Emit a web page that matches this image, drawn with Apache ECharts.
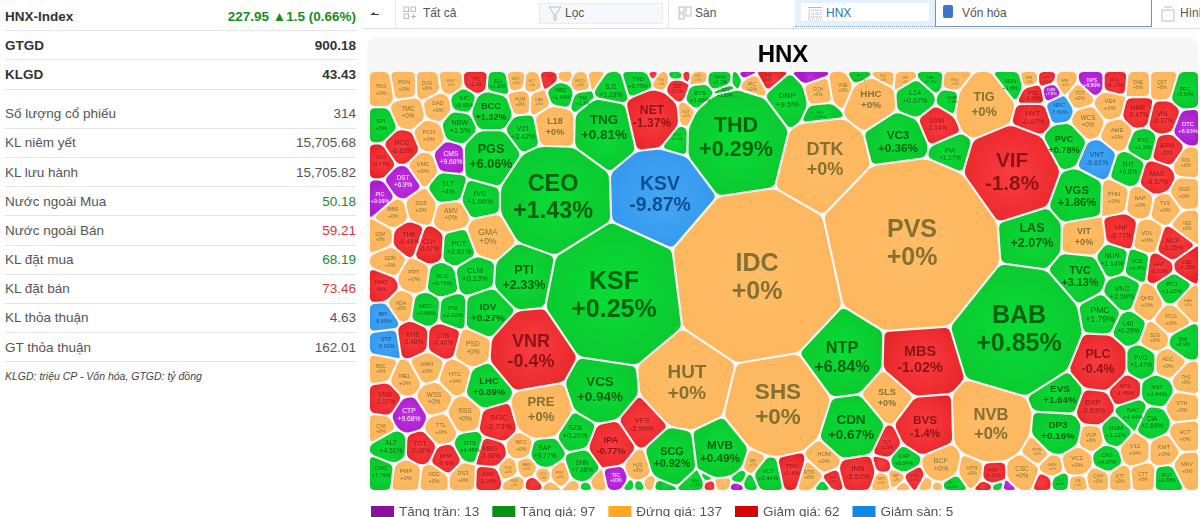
<!DOCTYPE html>
<html>
<head>
<meta charset="utf-8">
<title>HNX</title>
<script src="https://cdn.jsdelivr.net/npm/echarts@6/dist/echarts.min.js"></script>
<style>
html, body { margin: 0; width: 1200px; height: 517px; overflow: hidden; background: #fff; font-family: "Liberation Sans", Arial, sans-serif; color: #555; }
#side { position: absolute; left: 5px; top: 2px; width: 351px; font-size: 13.5px; }
#side .row { display: flex; justify-content: space-between; align-items: center; height: 28.2px; border-bottom: 1px solid #e4e4e4; }
#side .strong { font-weight: bold; color: #333; }
#side .gap { margin-top: 10px; }
#side .up { color: #1d8a22; }
#side .down { color: #d23a3a; }
#side .note { font-size: 10.5px; font-style: italic; margin-top: 8px; color: #444; }
#bar { position: absolute; left: 364px; top: 0; width: 836px; height: 28px; border-bottom: 1px solid #ddd; font-size: 12px; }
#bar span { position: absolute; top: 6px; }
#bar .sep { position: absolute; top: 0; width: 1px; height: 28px; background: #e6e6e6; }
#bar svg { position: absolute; top: 6px; }
#filter { position: absolute; left: 175px; top: 3px; width: 122px; height: 19px; border: 1px dotted #cfe3f5; background: #f5f9fe; }
#market { position: absolute; left: 431px; top: 0; width: 140px; height: 27px; background: #e3f1fc; border-bottom: 1px dotted #7a9cc0; box-sizing: border-box; }
#market i { position: absolute; left: 6px; top: 3px; width: 128px; height: 18px; background: #fff; }
#cap { position: absolute; left: 571px; top: -1px; width: 217px; height: 28px; border: 1px solid #6f94bd; box-sizing: border-box; }
#capicon { position: absolute; left: 579px; top: 5px; width: 10px; height: 13px; background: #3f74c8; border-radius: 2px; }
#panel { position: absolute; left: 367px; top: 37px; width: 831px; height: 455px; background: #f7f7f7; border-radius: 10px; }
#map { position: absolute; left: 360px; top: 0; width: 840px; height: 517px; }
</style>
</head>
<body>
<div id="side">
  <div class="row strong"><span>HNX-Index</span><span class="up">227.95 ▲1.5 (0.66%)</span></div>
  <div class="row strong"><span>GTGD</span><span>900.18</span></div>
  <div class="row strong"><span>KLGD</span><span>43.43</span></div>
  <div class="row gap"><span>Số lượng cổ phiếu</span><span>314</span></div>
  <div class="row"><span>KL niêm yết</span><span>15,705.68</span></div>
  <div class="row"><span>KL lưu hành</span><span>15,705.82</span></div>
  <div class="row"><span>Nước ngoài Mua</span><span class="up">50.18</span></div>
  <div class="row"><span>Nước ngoài Bán</span><span class="down">59.21</span></div>
  <div class="row"><span>KL đặt mua</span><span class="up">68.19</span></div>
  <div class="row"><span>KL đặt bán</span><span class="down">73.46</span></div>
  <div class="row"><span>KL thỏa thuận</span><span>4.63</span></div>
  <div class="row"><span>GT thỏa thuận</span><span>162.01</span></div>
  <div class="note">KLGD: triệu CP - Vốn hóa, GTGD: tỷ đồng</div>
</div>
<div id="bar">
  <div class="sep" style="left:31px"></div>
  <div class="sep" style="left:304px"></div>
  <svg style="left:6px" width="10" height="14"><path d="M0 9 L4 6 L5 8 L9 8 L9 9 Z" fill="#444"/></svg>
  <svg style="left:39px" width="14" height="14" fill="none" stroke="#bbb"><rect x="1" y="1" width="4.5" height="4.5"/><rect x="8" y="1" width="4.5" height="4.5"/><rect x="1" y="8" width="4.5" height="4.5"/><path d="M8 10.5 H13 M10.5 8 V13"/></svg>
  <span style="left:59px">Tất cả</span>
  <div id="filter"></div>
  <svg style="left:184px" width="14" height="16" fill="none" stroke="#bbb"><path d="M1 1 H13 L8 8 V14 H6 V8 Z"/></svg>
  <span style="left:201px">Lọc</span>
  <svg style="left:314px" width="14" height="14" fill="none" stroke="#bbb"><rect x="1" y="1" width="5" height="5"/><rect x="8" y="1" width="5" height="9"/><rect x="1" y="8" width="5" height="5"/></svg>
  <span style="left:331px">Sàn</span>
  <div id="market"><i></i></div>
  <svg style="left:444px" width="14" height="15" fill="none" stroke="#a9b9c9" stroke-dasharray="1 1"><path d="M0 1.5 H14" stroke-dasharray="none"/><rect x="1" y="4" width="12" height="10"/><path d="M1 8 H13 M1 11 H13 M5 4 V14 M9 4 V14"/></svg>
  <span style="left:462px;color:#2f6fb0">HNX</span>
  <div id="cap"></div>
  <div id="capicon"></div>
  <span style="left:598px">Vốn hóa</span>
  <svg style="left:797px" width="14" height="16" fill="none" stroke="#bbb"><path d="M3 1 H11 M1 4 H13 V15 H1 Z"/></svg>
  <span style="left:816px">Hình</span>
</div>
<div id="panel"></div>
<div id="map"></div>
<script>
// each row: ticker, % change, x, y, market cap
const ceilingCells = [
  ["CMS", 9.68, 451, 158, 225], ["DST", 6.9, 403, 182, 196], ["PIC", 9.09, 380, 198, 144],
  ["CTP", 9.68, 409, 415, 225], ["TFC", 10, 616, 478, 100], ["DTC", 8.93, 1188, 128, 169],
  ["NPS", 8.89, 1092, 83, 121], ["CVN", 7.8, 1051, 92, 81], ["KSD", 9.8, 746, 75, 25],
  ["SPC", 9.5, 737, 488, 25], ["PV2", 9.1, 812, 75, 16], ["VTL", 9.6, 1008, 488, 9]
];
const gainCells = [
  ["CEO", 1.43, 553, 198, 2704], ["THD", 0.29, 736, 138, 2304], ["KSF", 0.25, 614, 296, 4356],
  ["BAB", 0.85, 1019, 330, 3844], ["TNG", 0.81, 604, 128, 900], ["VC3", 0.36, 898, 142, 676],
  ["LAS", 2.07, 1032, 236, 784], ["VGS", 1.86, 1077, 197, 625], ["TVC", 3.13, 1080, 277, 576],
  ["PTI", 2.33, 524, 278, 784], ["IDV", 0.27, 488, 313, 484], ["NTP", 6.84, 842, 358, 1296],
  ["CDN", 0.67, 851, 428, 900], ["VCS", 0.94, 600, 390, 900], ["SCG", 0.92, 672, 458, 576],
  ["MVB", 0.49, 720, 452, 676], ["EVS", 1.64, 1060, 395, 484], ["DP3", 0.16, 1058, 431, 484],
  ["DNP", 9.5, 787, 100, 324], ["PGS", 6.06, 491, 157, 784], ["BCC", 1.32, 491, 112, 400],
  ["LHC", 0.89, 489, 387, 441], ["PCT", 2.61, 459, 248, 256], ["CLM", 0.13, 475, 275, 289],
  ["HLC", 0.76, 442, 280, 169], ["MDC", 0.88, 426, 310, 169], ["PSI", 2.02, 453, 312, 169],
  ["SLT", 4, 448, 188, 225], ["IVS", 1.96, 480, 198, 289], ["SPI", 5, 381, 125, 169],
  ["NBW", 1.5, 460, 127, 256], ["GIC", 0.69, 464, 102, 144], ["V21", 3.42, 523, 133, 256],
  ["ALT", 4.51, 391, 447, 225], ["CMC", 7.76, 381, 472, 144], ["DTS", 4.48, 470, 447, 169],
  ["SAF", 9.77, 545, 452, 225], ["SZB", 0.26, 575, 432, 256], ["SHN", 7.58, 582, 467, 196],
  ["SJ1", 1.19, 611, 91, 225], ["TVD", 0.75, 638, 83, 169], ["BTS", 1.88, 700, 97, 169],
  ["NBC", 1.49, 561, 94, 144], ["SD1", 1.32, 498, 84, 100], ["VC7", 2.44, 768, 475, 169],
  ["CAP", 0.84, 904, 460, 144], ["PVI", 1.17, 950, 155, 196], ["L14", 0.67, 915, 97, 256],
  ["PVC", 0.78, 1064, 145, 400], ["PJC", 1.5, 1143, 144, 169], ["THT", 0.8, 1128, 169, 196],
  ["NDN", 1.14, 1112, 260, 225], ["VC6", 0.8, 1137, 265, 144], ["VNC", 2.59, 1122, 293, 256],
  ["PC1", 1.05, 1172, 288, 169], ["PMC", 1.79, 1100, 315, 361], ["L40", 0.29, 1128, 328, 196],
  ["BMI", 0.9, 1183, 342, 121], ["PVG", 1.47, 1141, 362, 196], ["NST", 3.64, 1157, 391, 169],
  ["BAC", 4.44, 1133, 414, 169], ["CIA", 2.69, 1152, 423, 196], ["HGM", 1.12, 1116, 432, 169],
  ["CAG", 4.07, 1107, 459, 144], ["PGT", 1.08, 1167, 478, 121], ["PRC", 5.54, 1185, 92, 121],
  ["SGN", 1.8, 1010, 85, 144], ["TA9", 1.3, 583, 101, 100], ["VTV", 1.1, 677, 137, 81],
  ["HLD", 0.9, 677, 76, 25], ["NHA", 1.2, 720, 80, 121], ["SMT", 1.4, 737, 81, 25],
  ["API", 1.09, 725, 93, 100], ["VIG", 0.8, 820, 115, 81], ["HLY", 0.4, 860, 78, 64],
  ["TSB", 2.1, 930, 80, 81], ["KDM", 1.6, 952, 100, 81], ["SDA", 1.3, 695, 483, 64],
  ["HEV", 2.2, 707, 477, 9], ["GKM", 0.7, 739, 478, 25], ["ECI", 3.1, 749, 483, 25],
  ["KHD", 1.5, 630, 487, 9], ["DC2", 2.6, 639, 487, 16], ["SVN", 1.2, 660, 487, 16],
  ["SDU", 0.5, 586, 488, 9], ["BTW", 1.9, 824, 487, 16], ["VTC", 1.4, 952, 485, 64],
  ["TKC", 0.9, 997, 485, 16], ["CLX", 0.6, 1060, 482, 49]
];
const flatCells = [
  ["PVS", 0, 912, 244, 7225], ["IDC", 0, 757, 278, 6724], ["DTK", 0, 825, 160, 1600],
  ["HHC", 0, 871, 100, 484], ["TIG", 0, 984, 105, 784], ["HUT", 0, 687, 383, 1764],
  ["SHS", 0, 778, 405, 2500], ["NVB", 0, 991, 425, 1369], ["PRE", 0, 541, 410, 841],
  ["SLS", 0, 887, 398, 400], ["GMA", 0, 488, 237, 361], ["L18", 0, 555, 127, 400],
  ["PSD", 0, 473, 348, 225], ["VIT", 0, 1084, 237, 400], ["BCF", 0, 941, 465, 256],
  ["CSC", 0, 1022, 473, 196], ["VC2", 0, 1077, 462, 169], ["V12", 0, 1135, 450, 169],
  ["KMT", 0, 1164, 451, 169], ["VGP", 0, 1091, 438, 121], ["HCT", 0, 1185, 436, 144],
  ["MKV", 0, 1187, 468, 144], ["CTT", 0, 1143, 477, 121], ["KTT", 0, 1120, 479, 100],
  ["CVH", 0, 1098, 479, 100], ["GMX", 0, 1052, 467, 81], ["RTW", 0, 1037, 452, 81],
  ["SJE", 0, 1078, 483, 49], ["VTH", 0, 1182, 407, 144], ["THS", 0, 1186, 380, 100],
  ["ADC", 0, 1168, 363, 144], ["SDG", 0, 1155, 338, 121], ["PCG", 0, 1171, 320, 144],
  ["QHD", 0, 1147, 302, 169], ["DAE", 0, 1188, 303, 81], ["VDL", 0, 1147, 237, 169],
  ["VE3", 0, 1187, 226, 100], ["TV3", 0, 1165, 207, 144], ["NAP", 0, 1140, 202, 144],
  ["PHN", 0, 1114, 198, 169], ["SGD", 0, 1184, 193, 144], ["FID", 0, 1186, 163, 121],
  ["AME", 0, 1117, 134, 169], ["WCS", 0, 1088, 122, 196], ["VE4", 0, 1110, 105, 169],
  ["TDT", 0, 1080, 96, 121], ["MIP", 0, 1065, 83, 81], ["ONE", 0, 1138, 85, 121],
  ["QST", 0, 1162, 85, 121], ["SFN", 0, 1029, 80, 49], ["TKG", 0, 381, 90, 144],
  ["PGN", 0, 404, 86, 144], ["DVG", 0, 427, 86, 121], ["KKC", 0, 451, 83, 81],
  ["MST", 0, 516, 81, 64], ["NCT", 0, 532, 83, 49], ["TXM", 0, 565, 77, 36],
  ["HUM", 0, 520, 102, 100], ["CAN", 0, 539, 102, 81], ["DAD", 0, 438, 107, 144],
  ["TMC", 0, 408, 113, 196], ["PCH", 0, 429, 136, 169], ["VMC", 0, 423, 168, 169],
  ["SD5", 0, 421, 207, 169], ["BBS", 0, 393, 213, 144], ["AMV", 0, 451, 215, 196],
  ["SSM", 0, 380, 237, 100], ["SDN", 0, 390, 262, 144], ["PPT", 0, 414, 276, 169],
  ["HDA", 0, 401, 306, 121], ["BSC", 0, 381, 369, 121], ["MEL", 0, 405, 380, 169],
  ["HMH", 0, 427, 368, 144], ["HTC", 0, 455, 378, 169], ["WSS", 0, 434, 399, 196],
  ["SSS", 0, 465, 415, 225], ["CX8", 0, 381, 429, 121], ["TTL", 0, 441, 429, 169],
  ["NFC", 0, 521, 446, 144], ["PMP", 0, 406, 475, 169], ["SDC", 0, 434, 478, 144],
  ["DS3", 0, 463, 477, 144], ["ICG", 0, 508, 470, 81], ["BED", 0, 527, 467, 81],
  ["CC1", 0, 543, 476, 49], ["PSY", 0, 560, 475, 81], ["GDW", 0, 514, 483, 49],
  ["SEB", 0, 550, 487, 25], ["VHE", 0, 573, 487, 16], ["CJC", 0, 598, 482, 36],
  ["HJS", 0, 638, 468, 121], ["PEN", 0, 649, 484, 16], ["SDT", 0, 686, 114, 81],
  ["MCO", 0, 580, 83, 81], ["MED", 0, 595, 80, 36], ["TV4", 0, 661, 82, 49],
  ["VC9", 0, 698, 78, 49], ["IPC", 0, 752, 87, 121], ["OCH", 0, 818, 92, 100],
  ["VNE", 0, 843, 88, 100], ["D11", 0, 883, 78, 64], ["DIH", 0, 905, 80, 49],
  ["KSQ", 0, 955, 82, 64], ["LCS", 0, 723, 483, 36], ["MEI", 0, 753, 463, 64],
  ["HOM", 0, 824, 458, 169], ["DTD", 0, 809, 475, 121], ["MIT", 0, 881, 481, 64],
  ["NBP", 0, 896, 478, 49], ["SMN", 0, 903, 486, 16], ["THV", 0, 926, 485, 25],
  ["S55", 0, 937, 488, 16], ["NTH", 0, 972, 471, 121]
];
const lossCells = [
  ["VIF", -1.8, 1012, 173, 2116], ["VNR", -0.4, 531, 352, 1600], ["MBS", -1.02, 920, 360, 1024],
  ["BVS", -1.4, 925, 427, 676], ["PLC", -0.4, 1098, 362, 784], ["NET", -1.37, 652, 117, 729],
  ["IPA", -0.77, 611, 446, 400], ["VFS", -2.99, 642, 425, 289], ["SGC", -2.73, 499, 422, 324],
  ["APS", -1.45, 1125, 390, 169], ["DXP", -2.63, 1093, 407, 289], ["HVT", -0.67, 1033, 118, 256],
  ["DXM", -1.14, 937, 125, 196], ["HCC", -0.83, 402, 147, 225], ["VLA", -0.77, 381, 161, 144],
  ["THB", -0.44, 409, 239, 196], ["CLH", -0.67, 429, 246, 196], ["HAD", -6, 381, 286, 169],
  ["KHS", -2.48, 413, 339, 196], ["CTB", -0.46, 443, 340, 196], ["VSM", -1.07, 385, 399, 196],
  ["TOT", -2.06, 420, 448, 196], ["DHP", -0.6, 446, 460, 169], ["MBG", -2.38, 490, 453, 196],
  ["ASG", -3.28, 488, 478, 144], ["INN", -2.57, 858, 473, 289], ["VNF", -0.77, 1121, 232, 225],
  ["MCF", -1.15, 1173, 245, 196], ["LBE", -4.35, 1187, 265, 121], ["HAT", -0.53, 1159, 268, 144],
  ["ARM", -5, 1167, 150, 196], ["MAS", -0.57, 1157, 178, 225], ["VHL", -0.37, 1163, 118, 196],
  ["HMR", -0.47, 1138, 112, 196], ["PVL", -4.17, 1115, 83, 121], ["PSE", -3.28, 1033, 96, 121],
  ["TPL", -1.3, 476, 82, 100], ["VKC", -2.1, 550, 79, 49], ["ZZZ", -0.9, 677, 89, 100],
  ["DPC", -1.2, 653, 76, 9], ["TST", -3.3, 686, 76, 9], ["PTS", -1.6, 768, 78, 64],
  ["TDN", -0.8, 792, 470, 169], ["VCM", -1.9, 535, 484, 36], ["SPP", -2.2, 1047, 80, 49],
  ["HAF", -1.11, 993, 473, 121], ["BKC", -0.7, 987, 485, 16], ["KST", -1.8, 833, 480, 49],
  ["TMB", -1.4, 882, 466, 36], ["VTS", -2.6, 914, 478, 64], ["TLT", -1.5, 887, 445, 121],
  ["MAC", -3.1, 709, 485, 9], ["NAG", -0.9, 1044, 482, 36]
];
const floorCells = [
  ["KSV", -9.87, 660, 195, 1849], ["VNT", -9.81, 1097, 159, 256], ["NRC", -7.69, 1059, 109, 144],
  ["BPI", -8.89, 383, 318, 144], ["STP", -9.62, 386, 343, 144]
];
const legendLabels = ["Tăng trần: 13", "Tăng giá: 97", "Đứng giá: 137", "Giảm giá: 62", "Giảm sàn: 5"];

const groups = [ceilingCells, gainCells, flatCells, lossCells, floorCells];
const swatches = ["#8c0f9f", "#079312", "#ffa81f", "#d80303", "#0f88e6"];
const fills = [["#c030e4", "#a81ccb"], ["#08dc36", "#0cc42e"], ["#febd66", "#fdb55c"], ["#fb3d40", "#e52327"], ["#45a6f4", "#2f96ee"]];
const inks = ["#ffffff", "#05620f", "#857033", "#8c1418", "#0e4f90"];

// weighted voronoi, every cell is the box cut by its neighbours
const box = [[370, 72], [1198, 72], [1198, 490], [370, 490]];
const allCells = groups.flat();

function clip(poly, a, b, c) {
  const out = [];
  for (let i = 0; i < poly.length; i++) {
    const p = poly[i], q = poly[(i + 1) % poly.length];
    const dp = a * p[0] + b * p[1] - c, dq = a * q[0] + b * q[1] - c;
    if (dp <= 0) out.push(p);
    if (dp * dq < 0) {
      const t = dp / (dp - dq);
      out.push([p[0] + t * (q[0] - p[0]), p[1] + t * (q[1] - p[1])]);
    }
  }
  return out;
}

function cellPolygon(cell) {
  let poly = box;
  const gap = 1.1;
  for (const other of allCells) {
    if (other === cell || poly.length === 0) continue;
    const a = 2 * (other[2] - cell[2]), b = 2 * (other[3] - cell[3]);
    const len = Math.hypot(a, b);
    if (!len) continue;
    const c = other[2] * other[2] + other[3] * other[3] - other[4]
      - cell[2] * cell[2] - cell[3] * cell[3] + cell[4];
    poly = clip(poly, a, b, c - gap * len);
  }
  return poly;
}

function roundCorners(poly, radius) {
  const pts = [];
  const n = poly.length;
  for (let i = 0; i < n; i++) {
    const p = poly[i], prev = poly[(i + n - 1) % n], next = poly[(i + 1) % n];
    const l1 = Math.hypot(prev[0] - p[0], prev[1] - p[1]) || 1;
    const l2 = Math.hypot(next[0] - p[0], next[1] - p[1]) || 1;
    const t1 = Math.min(radius, l1 / 2.2) / l1, t2 = Math.min(radius, l2 / 2.2) / l2;
    const s = [p[0] + (prev[0] - p[0]) * t1, p[1] + (prev[1] - p[1]) * t1];
    const e = [p[0] + (next[0] - p[0]) * t2, p[1] + (next[1] - p[1]) * t2];
    for (let k = 0; k <= 5; k++) {
      const u = k / 5, v = 1 - u;
      pts.push([v * v * s[0] + 2 * u * v * p[0] + u * u * e[0], v * v * s[1] + 2 * u * v * p[1] + u * u * e[1]]);
    }
  }
  return pts;
}

const polygons = groups.map(function (list) {
  return list.map(function (cell) {
    return roundCorners(cellPolygon(cell), 5);
  });
});

function pctText(v) {
  return (v >= 0 ? "+" : "") + v + "%";
}

function renderCell(g) {
  return function (params, api) {
    const pts = polygons[g][params.dataIndex].map(function (p) {
      return api.coord(p);
    });
    if (pts.length < 3) return;
    const cell = groups[g][params.dataIndex];
    const r = Math.sqrt(cell[4]);
    const size = Math.min(25, r * 0.45);
    const children = [{
      type: "polygon",
      shape: { points: pts },
      style: {
        fill: new echarts.graphic.RadialGradient(0.5, 0.5, 0.7, [
          { offset: 0, color: fills[g][0] },
          { offset: 1, color: fills[g][1] }
        ])
      }
    }];
    if (r >= 7) {
      const c = api.coord([cell[2], cell[3]]);
      children.push({
        type: "text",
        x: c[0],
        y: c[1],
        style: {
          text: cell[0] + "\n" + pctText(cell[1]),
          fill: inks[g],
          font: (r >= 20 ? "bold " : "") + size + 'px "Liberation Sans", Arial, sans-serif',
          lineHeight: size * 1.12,
          align: "center",
          verticalAlign: "middle"
        }
      });
    }
    return { type: "group", children: children };
  };
}

const chart = echarts.init(document.getElementById("map"));
chart.setOption({
  animation: false,
  title: {
    text: "HNX",
    left: 418,
    top: 38,
    textAlign: "center",
    textStyle: { fontSize: 24, fontWeight: "bold", color: "#000", fontFamily: "Liberation Sans" }
  },
  legend: {
    left: 11,
    top: 505,
    padding: 0,
    itemWidth: 23,
    itemHeight: 12,
    itemGap: 13,
    icon: "rect",
    selectedMode: false,
    textStyle: { fontSize: 13.5, color: "#555", fontFamily: "Liberation Sans" },
    data: legendLabels
  },
  grid: { left: 10, top: 72, width: 828, height: 418 },
  xAxis: { type: "value", min: 370, max: 1198, show: false },
  yAxis: { type: "value", min: 72, max: 490, inverse: true, show: false },
  series: groups.map(function (list, g) {
    return {
      name: legendLabels[g],
      type: "custom",
      renderItem: renderCell(g),
      encode: { x: 2, y: 3 },
      itemStyle: { color: swatches[g] },
      clip: true,
      silent: true,
      data: list
    };
  })
});
</script>
</body>
</html>
